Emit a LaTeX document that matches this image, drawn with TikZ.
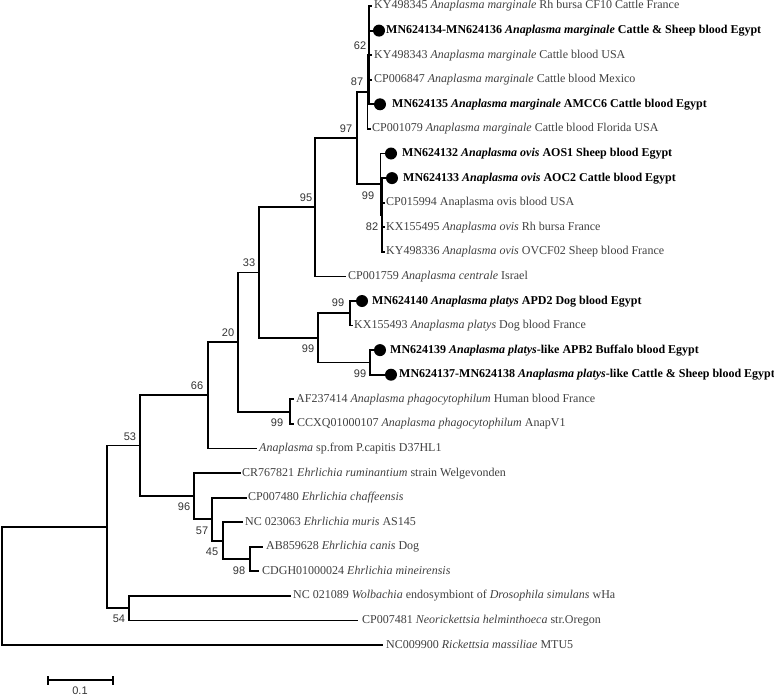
\documentclass[tikz,border=0pt]{standalone}
\usepackage{fontspec}
\setmainfont{Liberation Serif}
\newfontfamily\lblfont{Liberation Sans}
\begin{document}
\begin{tikzpicture}[x=1pt,y=-1pt,
  br/.style={line width=1.8pt, line join=miter, line cap=rect},
  leaf/.style={anchor=west, inner sep=0pt, font=\fontsize{12}{14}\selectfont, text=black!75, text height=8.5pt, text depth=2.5pt},
  bleaf/.style={leaf, text=black, font=\fontsize{12}{14}\selectfont\bfseries},
  dot/.style={circle, fill=black, inner sep=0pt, minimum size=12pt},
  bs/.style={inner sep=0pt, font=\lblfont\fontsize{11}{12}\selectfont, text=black!80}]
\useasboundingbox (0,0) rectangle (774,696);
% internal nodes
\coordinate (R) at (2,586);
\coordinate (A) at (107,527);
\coordinate (n54) at (129,608.2);
\coordinate (n53) at (140,445.5);
\coordinate (n96) at (194,496);
\coordinate (n57) at (212,519);
\coordinate (n45) at (223,540.6);
\coordinate (n98) at (250,559);
\coordinate (n66) at (208,395);
\coordinate (n20) at (238,342);
\coordinate (nph) at (290,411.6);
\coordinate (n33) at (259,272.5);
\coordinate (npl) at (318,337.7);
\coordinate (npa) at (350,313.2);
\coordinate (npb) at (370,362.4);
\coordinate (n95) at (315,207);
\coordinate (n97) at (357,138);
\coordinate (n87) at (367.5,92);
\coordinate (n62) at (368.7,55.2);
\coordinate (nov) at (380.5,184);
\coordinate (n82) at (381.7,215);
% tips
\coordinate (t0) at (371.5,6.0);
\coordinate (t1) at (373,30.6);
\coordinate (t2) at (371.5,55.2);
\coordinate (t3) at (371.5,79.7);
\coordinate (t4) at (373.5,104.3);
\coordinate (t5) at (370,128.9);
\coordinate (t6) at (385,153.5);
\coordinate (t7) at (386,178.1);
\coordinate (t8) at (384,202.6);
\coordinate (t9) at (384,227.2);
\coordinate (t10) at (384,251.8);
\coordinate (t11) at (345,276.4);
\coordinate (t12) at (356,301.0);
\coordinate (t13) at (352,325.5);
\coordinate (t14) at (374,350.1);
\coordinate (t15) at (384,374.7);
\coordinate (t16) at (293,399.3);
\coordinate (t17) at (293,423.8);
\coordinate (t18) at (256,448.4);
\coordinate (t19) at (240,473.0);
\coordinate (t20) at (246,497.6);
\coordinate (t21) at (242,522.2);
\coordinate (t22) at (262,546.7);
\coordinate (t23) at (258,571.3);
\coordinate (t24) at (290,595.9);
\coordinate (t25) at (357,620.5);
\coordinate (t26) at (382,645.1);
% branches
\draw[br] (R) |- (A); \draw[br] (R) |- (t26);
\draw[br] (A) |- (n53); \draw[br] (A) |- (n54);
\draw[br] (n54) |- (t24); \draw[br] (n54) |- (t25);
\draw[br] (n53) |- (n66); \draw[br] (n53) |- (n96);
\draw[br] (n96) |- (t19); \draw[br] (n96) |- (n57);
\draw[br] (n57) |- (t20); \draw[br] (n57) |- (n45);
\draw[br] (n45) |- (t21); \draw[br] (n45) |- (n98);
\draw[br] (n98) |- (t22); \draw[br] (n98) |- (t23);
\draw[br] (n66) |- (n20); \draw[br] (n66) |- (t18);
\draw[br] (n20) |- (n33); \draw[br] (n20) |- (nph);
\draw[br] (nph) |- (t16); \draw[br] (nph) |- (t17);
\draw[br] (n33) |- (n95); \draw[br] (n33) |- (npl);
\draw[br] (npl) |- (npa); \draw[br] (npl) |- (npb);
\draw[br] (npa) |- (t12); \draw[br] (npa) |- (t13);
\draw[br] (npb) |- (t14); \draw[br] (npb) |- (t15);
\draw[br] (n95) |- (n97); \draw[br] (n95) |- (t11);
\draw[br] (n97) |- (n87); \draw[br] (n97) |- (nov);
\draw[br] (n87) |- (n62); \draw[br] (n87) |- (t5);
\foreach \t in {t0,t1,t2,t3,t4} {\draw[br] (n62) |- (\t);}
\draw[br] (nov) |- (t6); \draw[br] (nov) |- (n82);
\foreach \t in {t7,t8,t9,t10} {\draw[br] (n82) |- (\t);}
% dots
\node[dot] (d1) at (379,30.6) {};
\node[dot] (d4) at (380,104.3) {};
\node[dot] (d6) at (391,153.5) {};
\node[dot] (d7) at (392,178.1) {};
\node[dot] (d12) at (362,301.0) {};
\node[dot] (d14) at (380,350.1) {};
\node[dot] (d15) at (391,374.7) {};
% leaf labels
\node[leaf] (l0) at (374,6.0) {KY498345 \textit{Anaplasma marginale} Rh bursa CF10 Cattle France};
\node[bleaf] (l1) at (386,30.6) {MN624134-MN624136 \textit{Anaplasma marginale} Cattle \& Sheep blood Egypt};
\node[leaf] (l2) at (374,55.2) {KY498343 \textit{Anaplasma marginale} Cattle blood USA};
\node[leaf] (l3) at (374,79.7) {CP006847 \textit{Anaplasma marginale} Cattle blood Mexico};
\node[bleaf] (l4) at (392,104.3) {MN624135 \textit{Anaplasma marginale} AMCC6 Cattle blood Egypt};
\node[leaf] (l5) at (372,128.9) {CP001079 \textit{Anaplasma marginale} Cattle blood Florida USA};
\node[bleaf] (l6) at (402,153.5) {MN624132 \textit{Anaplasma ovis} AOS1 Sheep blood Egypt};
\node[bleaf] (l7) at (403,178.1) {MN624133 \textit{Anaplasma ovis} AOC2 Cattle blood Egypt};
\node[leaf] (l8) at (386,202.6) {CP015994 Anaplasma ovis blood USA};
\node[leaf] (l9) at (386,227.2) {KX155495 \textit{Anaplasma ovis} Rh bursa France};
\node[leaf] (l10) at (386,251.8) {KY498336 \textit{Anaplasma ovis} OVCF02 Sheep blood France};
\node[leaf] (l11) at (348,276.4) {CP001759 \textit{Anaplasma centrale} Israel};
\node[bleaf] (l12) at (372,301.0) {MN624140 \textit{Anaplasma platys} APD2 Dog blood Egypt};
\node[leaf] (l13) at (354,325.5) {KX155493 \textit{Anaplasma platys} Dog blood France};
\node[bleaf] (l14) at (390,350.1) {MN624139 \textit{Anaplasma platys}-like APB2 Buffalo blood Egypt};
\node[bleaf] (l15) at (399,374.7) {MN624137-MN624138 \textit{Anaplasma platys}-like Cattle \& Sheep blood Egypt};
\node[leaf] (l16) at (296,399.3) {AF237414 \textit{Anaplasma phagocytophilum} Human blood France};
\node[leaf] (l17) at (297,423.8) {CCXQ01000107 \textit{Anaplasma phagocytophilum} AnapV1};
\node[leaf] (l18) at (259,448.4) {\textit{Anaplasma} sp.from P.capitis D37HL1};
\node[leaf] (l19) at (242,473.0) {CR767821 \textit{Ehrlichia ruminantium} strain Welgevonden};
\node[leaf] (l20) at (248,497.6) {CP007480 \textit{Ehrlichia chaffeensis}};
\node[leaf] (l21) at (245,522.2) {NC 023063 \textit{Ehrlichia muris} AS145};
\node[leaf] (l22) at (266,546.7) {AB859628 \textit{Ehrlichia canis} Dog};
\node[leaf] (l23) at (262,571.3) {CDGH01000024 \textit{Ehrlichia mineirensis}};
\node[leaf] (l24) at (293,595.9) {NC 021089 \textit{Wolbachia} endosymbiont of \textit{Drosophila simulans} wHa};
\node[leaf] (l25) at (362,620.5) {CP007481 \textit{Neorickettsia helminthoeca} str.Oregon};
\node[leaf] (l26) at (386,645.1) {NC009900 \textit{Rickettsia massiliae} MTU5};
% bootstrap values
\node[bs] (b62) at (360,46) {62};
\node[bs] (b87) at (357,82) {87};
\node[bs] (b97) at (346,129) {97};
\node[bs] (b99ov) at (368,196) {99};
\node[bs] (b82) at (372,227) {82};
\node[bs] (b95) at (306,198) {95};
\node[bs] (b33) at (249,263) {33};
\node[bs] (b99pa) at (338,303) {99};
\node[bs] (b99pl) at (308,349) {99};
\node[bs] (b99pb) at (360,374) {99};
\node[bs] (b20) at (228,333) {20};
\node[bs] (b66) at (197,386) {66};
\node[bs] (b99ph) at (277,423) {99};
\node[bs] (b53) at (130,437) {53};
\node[bs] (b96) at (184,507) {96};
\node[bs] (b57) at (202,531) {57};
\node[bs] (b45) at (212,552) {45};
\node[bs] (b98) at (239,571) {98};
\node[bs] (b54) at (119,619) {54};
% scale bar
\coordinate (s1) at (48,680);
\coordinate (s2) at (113,680);
\draw[line width=1.6pt] (s1) -- (s2);
\draw[line width=1.6pt] ([yshift=-4.5pt]s1) -- ([yshift=4.5pt]s1);
\draw[line width=1.6pt] ([yshift=-4.5pt]s2) -- ([yshift=4.5pt]s2);
\node[bs] (sl) at (80,691) {0.1};
\end{tikzpicture}
\end{document}
